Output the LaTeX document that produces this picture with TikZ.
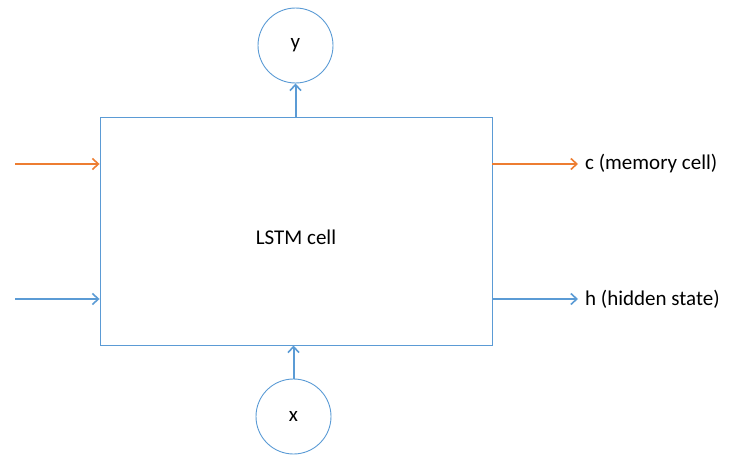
\documentclass[tikz,border=0pt]{standalone}
\usepackage{fontspec}
\setmainfont{Carlito}
\usetikzlibrary{positioning,arrows.meta,calc}
\definecolor{cellblue}{HTML}{5B9BD5}
\definecolor{cellorange}{HTML}{ED7D31}

\begin{document}
\begin{tikzpicture}[
      x=1pt, y=-1pt,
      cellfont/.style={font=\fontsize{21pt}{24pt}\selectfont},
      cellbox/.style={draw=cellblue, line width=0.9pt, minimum width=392pt,
                      minimum height=228pt},
      io/.style={draw=cellblue, line width=0.9pt, circle, minimum size=75pt,
                 inner sep=0pt, cellfont},
      lbl/.style={anchor=west, inner sep=7pt, cellfont},
      barrow/.style={-{Straight Barb[length=6pt,width=11pt,line width=1.6pt]},
                     color=cellblue, line width=2pt},
      oarrow/.style={-{Straight Barb[length=6pt,width=11pt,line width=1.6pt]},
                     color=cellorange, line width=2pt},
    ]
      \useasboundingbox (0,0) rectangle (729,463);

      \node[cellbox, label={[cellfont, yshift=-6pt]center:LSTM cell}] (cell) at (296,231) {};
      \node[io] (yout) at (295.5,45.5) {y};
      \node[io] (xin) at (293.5,416.5) {x};

      \coordinate (cin) at (15,164);
      \coordinate (hin) at (15,299);
      \node[lbl] (cout) at (578,164) {c (memory cell)};
      \node[lbl] (hout) at (578,299) {h (hidden state)};

      \draw[barrow] (cell.north -| yout.south) -- (yout.south);
      \draw[barrow] (xin.north) -- (xin.north |- cell.south);

      \draw[oarrow] (cin) -- (cin -| cell.west);
      \draw[barrow] (hin) -- (hin -| cell.west);
      \draw[oarrow] (cell.east |- cout.west) -- (cout.west);
      \draw[barrow] (cell.east |- hout.west) -- (hout.west);
\end{tikzpicture}
\end{document}
